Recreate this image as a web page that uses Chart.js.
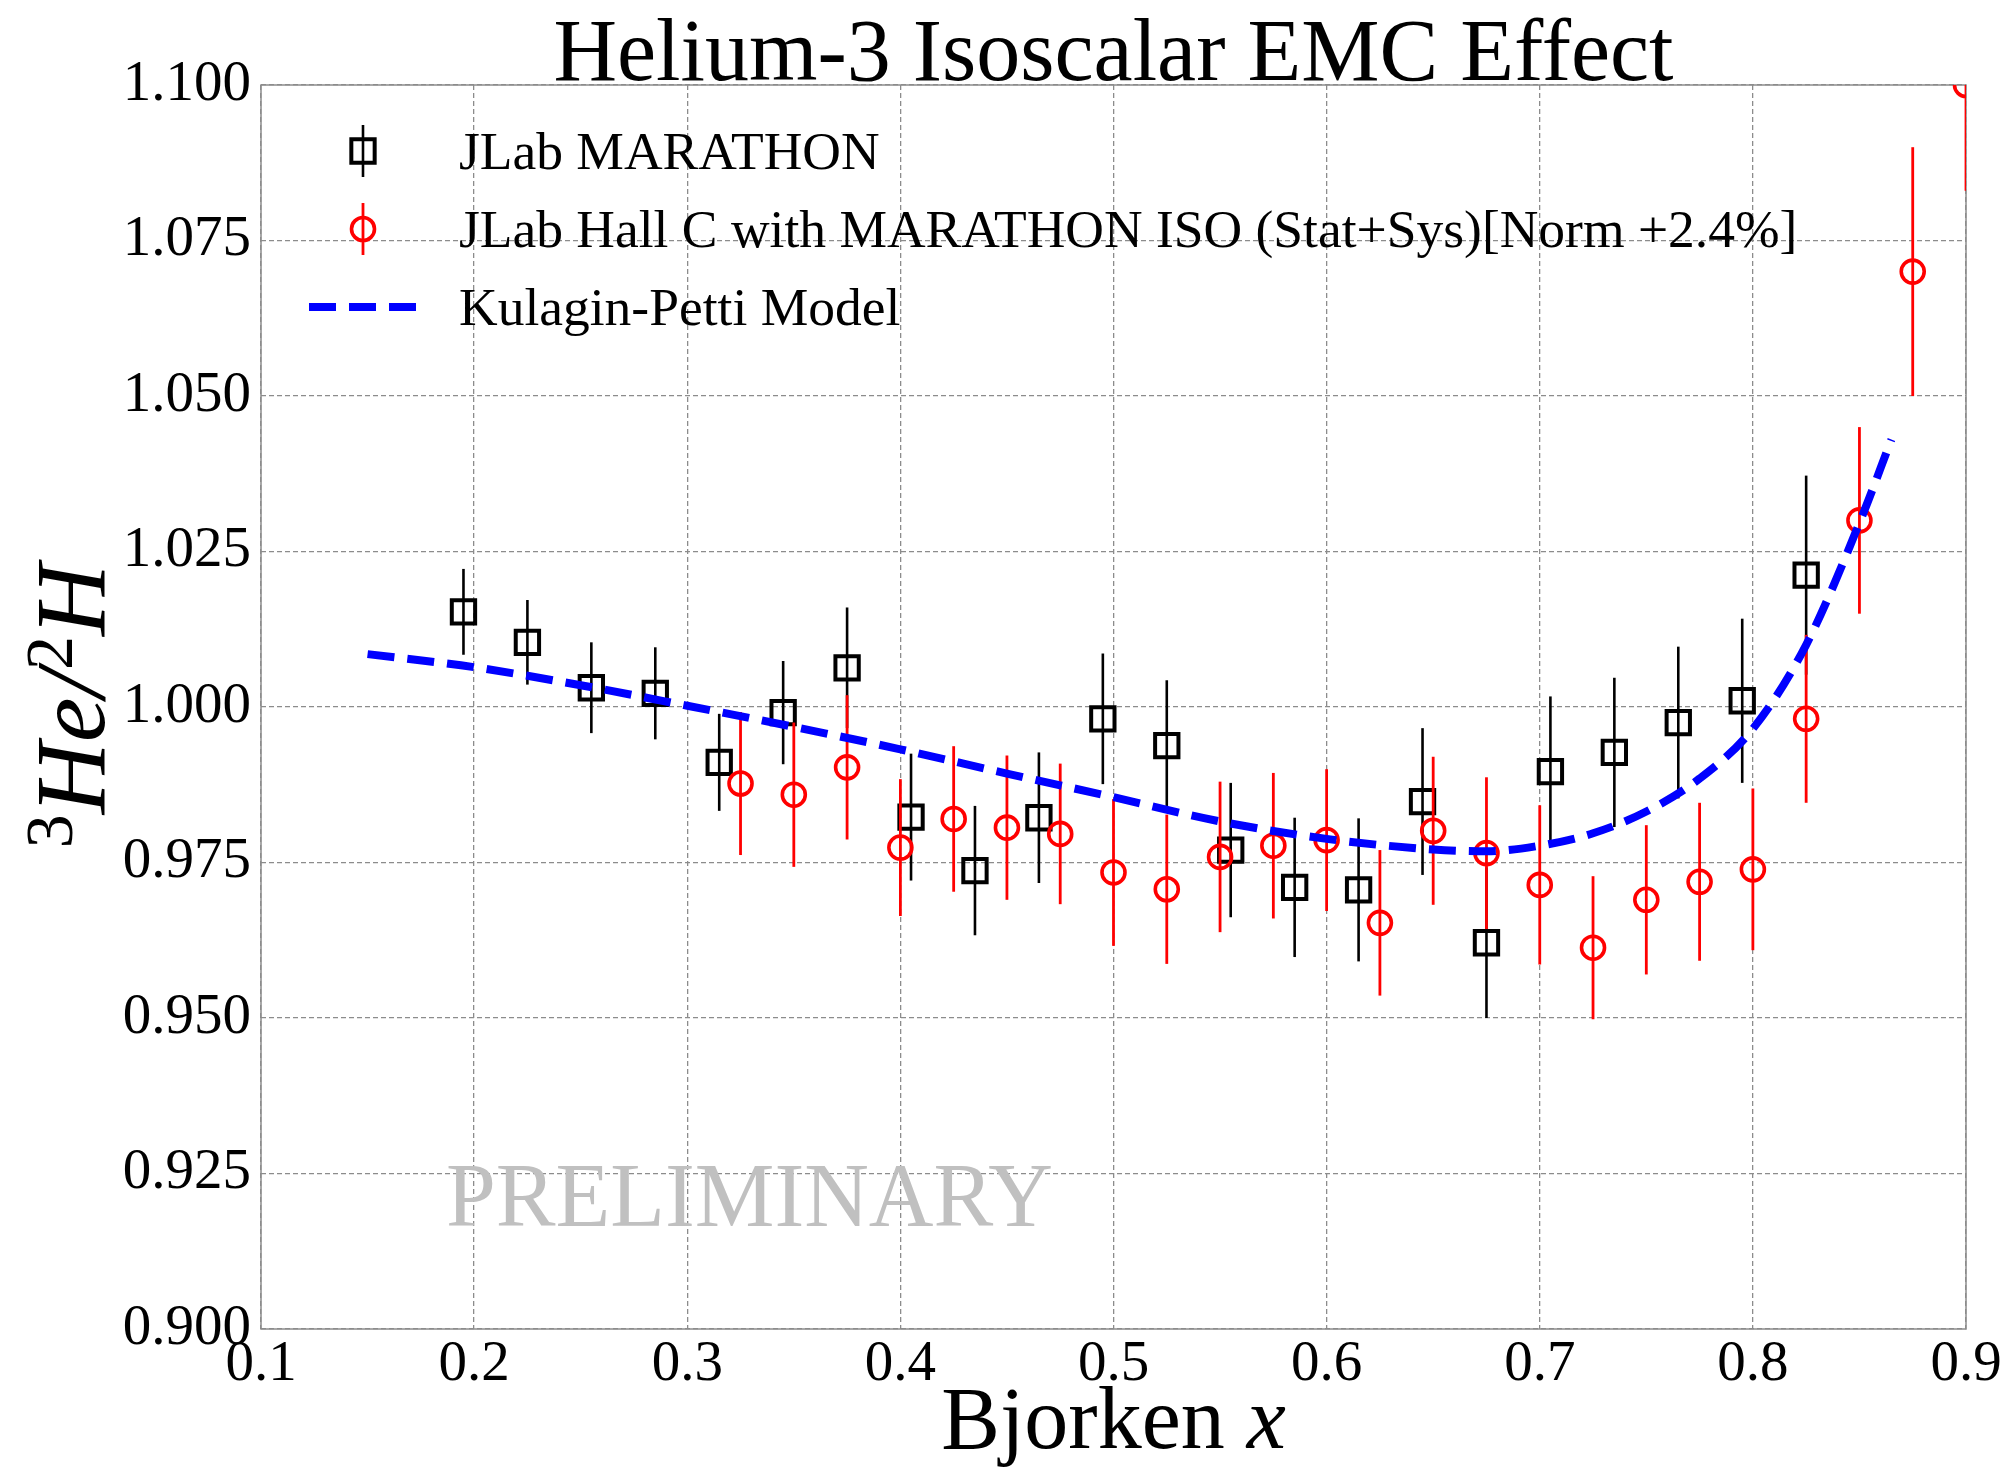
<!DOCTYPE html>
<html>
<head>
<meta charset="utf-8">
<title>Helium-3 Isoscalar EMC Effect</title>
<script src="https://cdn.jsdelivr.net/npm/chart.js@4.4.0/dist/chart.umd.min.js"></script>
<style>
  html, body { margin: 0; padding: 0; background: #fff; }
  canvas { display: block; }
</style>
</head>
<body>
<canvas id="chart" width="2009" height="1468"></canvas>
<script>
// JLab MARATHON 3He/2H ratio
const marathonX = [0.195, 0.225, 0.255, 0.285, 0.315, 0.345, 0.375, 0.405, 0.435, 0.465, 0.495,
  0.525, 0.555, 0.585, 0.615, 0.645, 0.675, 0.705, 0.735, 0.765, 0.795, 0.825]
const marathonY = [1.0153, 1.0104, 1.0031, 1.0022, 0.9911, 0.9991, 1.0063, 0.9823, 0.9737, 0.9822, 0.9981,
  0.9938, 0.9770, 0.9710, 0.9706, 0.9848, 0.9621, 0.9896, 0.9927, 0.9975, 1.0010, 1.0212]
const marathonErr = [0.0069, 0.0068, 0.0073, 0.0074, 0.0078, 0.0083, 0.0097, 0.0102, 0.0104, 0.0105, 0.0105,
  0.0105, 0.0108, 0.0112, 0.0115, 0.0118, 0.0121, 0.0121, 0.0120, 0.0122, 0.0132, 0.0160]

// Hall C with MARATHON isoscalar correction, stat+sys, norm +2.4%
const hallcX = [0.325, 0.35, 0.375, 0.40, 0.425, 0.45, 0.475, 0.50, 0.525, 0.55, 0.575, 0.60,
  0.625, 0.65, 0.675, 0.70, 0.725, 0.75, 0.775, 0.80, 0.825, 0.85, 0.875, 0.90]
const hallcY = [0.9877, 0.9859, 0.9903, 0.9774, 0.9820, 0.9806, 0.9796, 0.9734, 0.9707, 0.9759, 0.9777, 0.9786,
  0.9653, 0.9801, 0.9765, 0.9714, 0.9613, 0.9690, 0.9719, 0.9739, 0.9981, 1.0300, 1.0700, 1.1000]
const hallcErr = [0.0115, 0.0116, 0.0116, 0.0110, 0.0117, 0.0116, 0.0113, 0.0118, 0.0120, 0.0121, 0.0117, 0.0114,
  0.0117, 0.0119, 0.0122, 0.0128, 0.0115, 0.0120, 0.0127, 0.0130, 0.0135, 0.0150, 0.0200, 0.0170]

// Kulagin-Petti model curve
const kpX = [0.15, 0.2, 0.25, 0.3, 0.35, 0.4, 0.45, 0.5, 0.55, 0.6, 0.65, 0.675, 0.7, 0.725, 0.75,
  0.775, 0.8, 0.825, 0.85, 0.865]
const kpY = [1.0085, 1.0064, 1.0035, 1.0002, 0.9968, 0.9932, 0.9893, 0.9855, 0.9816, 0.9788, 0.9771, 0.9768,
  0.9777, 0.9797, 0.9832, 0.9885, 0.9965, 1.0100, 1.0296, 1.0430]

const xTicks = [0.1, 0.2, 0.3, 0.4, 0.5, 0.6, 0.7, 0.8, 0.9]
const yTicks = [0.900, 0.925, 0.950, 0.975, 1.000, 1.025, 1.050, 1.075, 1.100]

const SERIF = "'Liberation Serif', 'DejaVu Serif', serif"
const GRID = '#8c8c8c'

const toPoints = (xs, ys) => xs.map((x, i) => ({x, y: ys[i]}))

// vertical error bars, drawn right before each dataset's markers
const errorBars = {
  id: 'errorBars',
  beforeDatasetDraw(chart, args){
    const ds = chart.data.datasets[args.index]
    if(!ds.errors) return
    const {ctx, chartArea: a, scales} = chart
    ctx.save()
    ctx.beginPath()
    ctx.rect(a.left, a.top, a.right - a.left, a.bottom - a.top)
    ctx.clip()
    ctx.strokeStyle = ds.borderColor
    ctx.lineWidth = ds.errorWidth
    ds.data.forEach((p, i) => {
      const px = scales.x.getPixelForValue(p.x)
      ctx.beginPath()
      ctx.moveTo(px, scales.y.getPixelForValue(p.y - ds.errors[i]))
      ctx.lineTo(px, scales.y.getPixelForValue(p.y + ds.errors[i]))
      ctx.stroke()
    })
    ctx.restore()
  }
}

// axes frame and the watermark sit under the data
const frame = {
  id: 'frame',
  beforeDatasetsDraw(chart){
    const {ctx, chartArea: a} = chart
    ctx.save()
    ctx.fillStyle = '#c0c0c0'
    ctx.font = `92px ${SERIF}`
    ctx.textBaseline = 'alphabetic'
    ctx.fillText('PRELIMINARY', 446, 1226, 607)
    ctx.strokeStyle = GRID
    ctx.lineWidth = 1.5
    ctx.strokeRect(a.left, a.top, a.right - a.left, a.bottom - a.top)
    ctx.restore()
  }
}

function drawPieces(ctx, parts, x, y){
  let w = 0
  parts.forEach(p => { ctx.font = p.font; w += ctx.measureText(p.text).width })
  let cx = x - w / 2
  parts.forEach(p => {
    ctx.font = p.font
    ctx.fillText(p.text, cx, y - (p.rise || 0))
    cx += ctx.measureText(p.text).width
  })
}

const labels = {
  id: 'labels',
  afterDraw(chart){
    const {ctx, chartArea: a} = chart
    const mid = (a.left + a.right) / 2
    ctx.save()
    ctx.fillStyle = '#000'
    ctx.textBaseline = 'alphabetic'
    ctx.textAlign = 'left'

    // title
    drawPieces(ctx, [{text: 'Helium-3 Isoscalar EMC Effect', font: `88px ${SERIF}`}], mid, 80)

    // x axis title
    drawPieces(ctx, [
      {text: 'Bjorken ', font: `88px ${SERIF}`},
      {text: 'x', font: `italic 88px ${SERIF}`}
    ], mid, 1448)

    // y axis title, rotated
    ctx.save()
    ctx.translate(104, 706)
    ctx.rotate(-Math.PI / 2)
    drawPieces(ctx, [
      {text: '3', font: `68px ${SERIF}`, rise: 32},
      {text: 'He/', font: `italic 100px ${SERIF}`},
      {text: '2', font: `68px ${SERIF}`, rise: 32},
      {text: 'H', font: `italic 100px ${SERIF}`}
    ], 0, 0)
    ctx.restore()

    // legend
    const ds = chart.data.datasets
    const rows = [151, 229, 307]
    const mx = 363
    ctx.font = `53.5px ${SERIF}`
    ds.forEach((d, i) => {
      const y = rows[i]
      ctx.save()
      ctx.strokeStyle = d.borderColor
      if(d.errors){
        ctx.lineWidth = d.errorWidth
        ctx.beginPath()
        ctx.moveTo(mx, y - 26)
        ctx.lineTo(mx, y + 26)
        ctx.stroke()
        ctx.lineWidth = d.borderWidth
        ctx.beginPath()
        if(d.pointStyle === 'rect'){
          const s = d.pointRadius * Math.SQRT1_2
          ctx.rect(mx - s, y - s, 2 * s, 2 * s)
        } else {
          ctx.arc(mx, y, d.pointRadius, 0, Math.PI * 2)
        }
        ctx.stroke()
      } else {
        ctx.lineWidth = d.borderWidth
        ctx.setLineDash(d.borderDash)
        ctx.beginPath()
        ctx.moveTo(309, y)
        ctx.lineTo(417, y)
        ctx.stroke()
      }
      ctx.restore()
      ctx.fillText(d.label, 459, y + 17.5)
    })
    ctx.restore()
  }
}

const ctx = document.getElementById('chart').getContext('2d')
const chart = new Chart(ctx, {
  type: 'scatter',
  data: {
    datasets: [
      {
        label: 'JLab MARATHON',
        data: toPoints(marathonX, marathonY),
        errors: marathonErr,
        errorWidth: 2.6,
        pointStyle: 'rect',
        pointRadius: 16.5,
        borderWidth: 4,
        borderColor: '#000',
        backgroundColor: 'rgba(0,0,0,0)',
        order: 3,
        clip: 0
      },
      {
        label: 'JLab Hall C with MARATHON ISO (Stat+Sys)[Norm +2.4%]',
        data: toPoints(hallcX, hallcY),
        errors: hallcErr,
        errorWidth: 2.8,
        pointStyle: 'circle',
        pointRadius: 11.5,
        borderWidth: 3.6,
        borderColor: '#ff0000',
        backgroundColor: 'rgba(0,0,0,0)',
        order: 2,
        clip: 0
      },
      {
        label: 'Kulagin-Petti Model',
        type: 'line',
        data: toPoints(kpX, kpY),
        borderColor: '#0000ff',
        borderWidth: 8,
        borderDash: [27, 13],
        borderCapStyle: 'butt',
        cubicInterpolationMode: 'monotone',
        pointRadius: 0,
        fill: false,
        order: 1,
        clip: 0
      }
    ]
  },
  options: {
    responsive: false,
    animation: false,
    devicePixelRatio: 1,
    layout: {padding: {top: 85, right: 43, left: 0, bottom: 0}},
    plugins: {legend: {display: false}, tooltip: {enabled: false}, title: {display: false}},
    scales: {
      x: {
        type: 'linear',
        min: 0.1, max: 0.9,
        afterFit(scale){ scale.height = 139 },
        afterBuildTicks(scale){ scale.ticks = xTicks.map(v => ({value: v})) },
        grid: {color: GRID, lineWidth: 1.3, drawTicks: false},
        border: {display: false, dash: [5, 3]},
        ticks: {
          color: '#000', padding: 2, maxRotation: 0, autoSkip: false,
          font: {family: SERIF, size: 57},
          callback: v => v.toFixed(1)
        }
      },
      y: {
        type: 'linear',
        min: 0.9, max: 1.1,
        afterFit(scale){ scale.width = 261 },
        afterBuildTicks(scale){ scale.ticks = yTicks.map(v => ({value: v})) },
        grid: {color: GRID, lineWidth: 1.3, drawTicks: false},
        border: {display: false, dash: [5, 3]},
        ticks: {
          color: '#000', padding: 10, autoSkip: false,
          font: {family: SERIF, size: 57},
          callback: v => v.toFixed(3)
        }
      }
    }
  },
  plugins: [errorBars, frame, labels]
})
</script>
</body>
</html>
